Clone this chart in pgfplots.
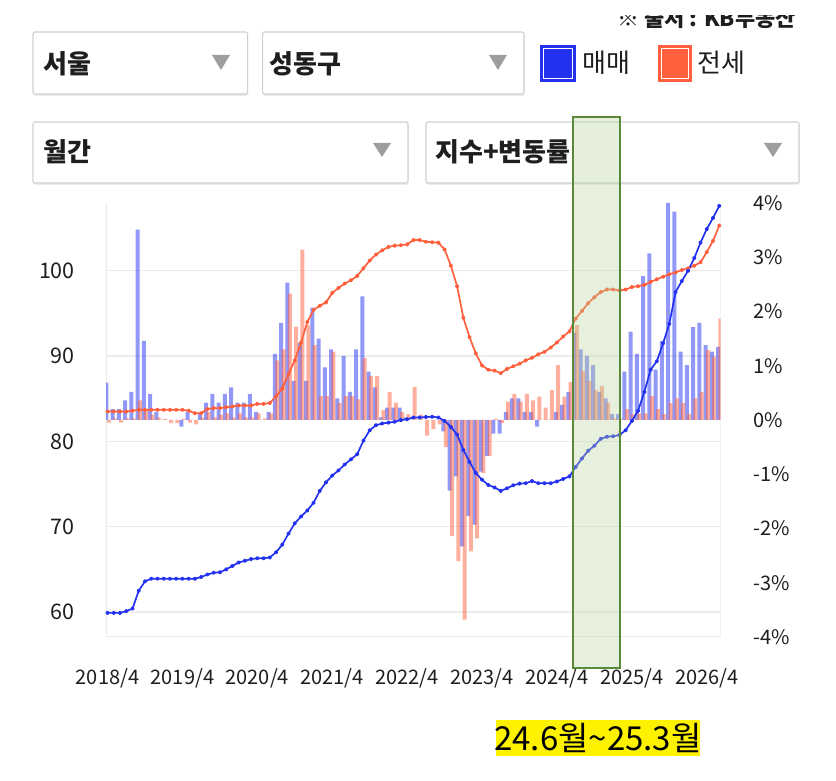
\documentclass[border=0pt]{standalone}
\usepackage{fontspec}
\setmainfont{Noto Sans CJK KR}
\usepackage{pgfplots}
\usepackage{pgfplotstable}
\pgfplotsset{compat=1.18}
\definecolor{blueM}{RGB}{35,50,240}
\definecolor{redJ}{RGB}{255,95,60}
\definecolor{gridc}{RGB}{236,236,236}
\definecolor{boxc}{RGB}{206,208,212}
\definecolor{tric}{RGB}{158,158,158}
\definecolor{gfill}{RGB}{184,212,155}
\definecolor{gdraw}{RGB}{88,138,58}
\definecolor{txt}{RGB}{30,30,30}
\newcommand{\fs}[1]{\fontsize{#1pt}{#1pt}\selectfont}

\pgfplotstableread{
i bm jm bp jp
0 59.9 83.5 0.69 -0.05
1 59.9 83.5 0.20 0.03
2 59.9 83.5 0.20 -0.05
3 60.1 83.5 0.36 0.03
4 60.4 83.6 0.52 0.03
5 62.5 83.7 3.51 0.36
6 63.6 83.7 1.46 0.20
7 63.9 83.7 0.48 0.10
8 63.9 83.7 0.15 0.05
9 63.9 83.7 0.00 0.02
10 63.9 83.7 0.00 -0.06
11 63.9 83.7 0.00 -0.06
12 63.9 83.7 -0.12 0.02
13 63.9 83.6 0.15 -0.05
14 63.9 83.3 0.00 -0.08
15 64.1 83.3 0.12 0.05
16 64.4 83.8 0.32 0.15
17 64.6 83.9 0.48 0.05
18 64.65 83.9 0.32 0.10
19 65.0 84.0 0.48 0.12
20 65.4 84.1 0.60 0.05
21 65.8 84.2 0.32 0.12
22 66.0 84.2 0.32 0.05
23 66.2 84.2 0.48 0.05
24 66.3 84.4 0.15 0.12
25 66.3 84.4 0.00 0.03
26 66.4 84.5 0.15 0.12
27 67.0 85.3 1.22 1.10
28 67.9 86.2 1.79 1.30
29 69.2 87.9 2.53 2.33
30 70.4 89.5 0.72 1.72
31 71.2 91.6 1.42 3.14
32 71.9 94.0 0.72 1.75
33 72.8 95.4 2.07 1.38
34 74.2 95.9 1.50 0.44
35 75.2 96.3 0.97 0.44
36 76.0 97.4 1.30 1.26
37 76.6 98.0 0.40 0.31
38 77.3 98.5 1.18 0.44
39 77.9 98.9 0.52 0.44
40 78.5 99.4 1.30 0.38
41 80.1 100.3 2.28 1.14
42 81.3 101.2 0.89 0.81
43 81.9 101.9 0.60 0.81
44 82.1 102.4 0.05 0.18
45 82.2 102.8 0.23 0.52
46 82.3 102.95 0.23 0.32
47 82.5 103.0 0.23 0.15
48 82.6 103.1 0.05 0.11
49 82.8 103.6 0.00 0.61
50 82.8 103.6 0.00 0.10
51 82.85 103.4 0.00 -0.29
52 82.9 103.35 0.00 -0.17
53 82.8 103.3 0.00 -0.08
54 82.4 102.5 -0.21 -0.50
55 81.7 100.6 -1.30 -2.14
56 80.8 98.2 -1.04 -2.60
57 79.0 94.5 -2.33 -3.68
58 77.6 92.2 -1.77 -2.42
59 76.3 90.3 -1.93 -2.18
60 75.5 88.9 -0.95 -0.98
61 74.9 88.4 -0.66 -0.66
62 74.6 88.3 -0.25 0.02
63 74.2 88.0 -0.25 -0.06
64 74.5 88.5 0.15 0.34
65 74.85 88.8 0.40 0.48
66 75.05 89.1 0.40 0.34
67 75.1 89.5 0.15 0.48
68 75.35 89.8 0.15 0.36
69 75.1 90.2 -0.12 0.43
70 75.1 90.5 0.00 0.23
71 75.1 91.0 0.00 0.55
72 75.3 91.6 0.15 1.01
73 75.6 92.3 0.28 0.43
74 75.9 92.9 0.52 0.70
75 77.0 94.4 1.61 1.75
76 78.0 95.3 1.30 0.90
77 78.9 96.2 1.18 0.72
78 79.5 96.9 1.01 0.55
79 80.3 97.5 0.52 0.63
80 80.55 97.8 0.40 0.32
81 80.6 97.8 0.11 0.03
82 80.75 97.7 0.11 0.03
83 81.3 97.8 0.89 0.20
84 82.4 98.1 1.63 0.11
85 83.6 98.2 1.22 0.12
86 85.8 98.35 2.65 0.12
87 88.4 98.7 3.07 0.44
88 89.4 99.0 0.93 0.20
89 91.5 99.3 1.46 0.11
90 93.8 99.6 4.00 0.31
91 97.5 99.8 3.84 0.40
92 98.8 100.1 1.26 0.31
93 100.0 100.3 1.01 0.11
94 101.5 100.6 1.71 0.40
95 103.3 101.0 1.79 0.52
96 104.9 102.2 1.38 1.29
97 106.2 103.5 1.26 1.17
98 107.6 105.3 1.35 1.87
}\data

\pgfplotsset{
  common/.style={
    at={(106pt,144pt)}, anchor=south west,
    scale only axis, width=614.5pt, height=434pt,
    xmin=-0.25, xmax=98.2,
    axis line style={draw=none}, tick style={draw=none},
    /pgf/number format/assume math mode=true,
  }
}

\begin{document}
\begin{tikzpicture}[x=1pt,y=1pt]
\path[use as bounding box] (0,0) rectangle (836,781);

% source line (cut at top)
\node[anchor=base east, inner sep=0pt, font=\fs{22}\bfseries, text=txt] at (796,754) {※ 출처 : KB부동산};
\fill[white] (590,766) rectangle (836,782);

% dropdown boxes
\foreach \a/\b/\c/\d in {33/749/247.6/687, 262.6/749/524/687, 33/659/408/598, 426/659/799/598}{
  \fill[black!7, rounded corners=2pt] (\a,\b-1.5) rectangle (\c+0.5,\d-1.8);
  \draw[boxc, line width=1.1pt, fill=white, rounded corners=2pt] (\a,\b) rectangle (\c,\d);
}
\fill[tric] (212,726) -- (230,726) -- (221,711) -- cycle;
\fill[tric] (489,726) -- (507,726) -- (498,711) -- cycle;
\fill[tric] (373,638) -- (391,638) -- (382,624) -- cycle;
\fill[tric] (764,638) -- (782,638) -- (773,624) -- cycle;
\node[anchor=west, inner sep=0pt, font=\fs{26}\bfseries, text=txt] at (43,717) {서울};
\node[anchor=west, inner sep=0pt, font=\fs{26}\bfseries, text=txt] at (269,717) {성동구};
\node[anchor=west, inner sep=0pt, font=\fs{26}\bfseries, text=txt] at (43,629) {월간};
\node[anchor=west, inner sep=0pt, font=\fs{26}\bfseries, text=txt] at (435,629) {지수+변동률};

% legend
\fill[blueM] (540,736) rectangle (576,699);
\draw[white, line width=1.3pt] (543.5,732.5) rectangle (572.5,702.5);
\node[anchor=west, inner sep=0pt, font=\fs{26}, text=txt] at (582,718) {매매};
\fill[redJ] (658,736) rectangle (692,699);
\draw[white, line width=1.3pt] (661.5,732.5) rectangle (688.5,702.5);
\node[anchor=west, inner sep=0pt, font=\fs{26}, text=txt] at (697,718) {전세};

% axis 1: grid, left labels, x labels
\begin{axis}[common,
  ymin=57.07, ymax=107.95,
  ytick={60,70,80,90,100},
  ymajorgrids, grid style={gridc, line width=1.3pt},
  xtick={0,12,24,36,48,60,72,84,96},
  xticklabels={2018/4,2019/4,2020/4,2021/4,2022/4,2023/4,2024/4,2025/4,2026/4},
  yticklabel style={anchor=east, inner sep=0pt, xshift=-31pt, font=\fs{21.5}, text=txt},
  xticklabel style={anchor=north, inner sep=0pt, yshift=-31pt, font=\fs{20}, text=txt},
]
\draw[gridc, line width=1.3pt] (rel axis cs:0,0) -- (rel axis cs:0,1);
\draw[gridc, line width=1.3pt] (rel axis cs:1,0) -- (rel axis cs:1,1);
\draw[gridc, line width=1.3pt] (rel axis cs:0,0) -- (rel axis cs:1,0);
\end{axis}

% axis 2: bars, right labels
\begin{axis}[common,
  ymin=-4, ymax=4,
  xtick=\empty,
  ytick={-4,-3,-2,-1,0,1,2,3,4},
  yticklabels={-4\%,-3\%,-2\%,-1\%,0\%,1\%,2\%,3\%,4\%},
  yticklabel pos=right,
  yticklabel style={anchor=west, inner sep=0pt, xshift=32.5pt, font=\fs{20}, text=txt},
]
\addplot[ybar, bar width=4pt, bar shift=-1.2pt, fill=blueM, fill opacity=0.5, draw=none] table[x=i, y=bp] {\data};
\addplot[ybar, bar width=4pt, bar shift=1.2pt, fill=redJ, fill opacity=0.5, draw=none] table[x=i, y=jp] {\data};
\end{axis}

% axis 3: index lines
\begin{axis}[common,
  ymin=57.07, ymax=107.95,
  xtick=\empty, ytick=\empty,
]
\addplot[redJ, line width=1.7pt, line join=round, mark=*, mark size=1.3pt] table[x=i, y=jm] {\data};
\addplot[blueM, line width=1.7pt, line join=round, mark=*, mark size=1.3pt] table[x=i, y=bm] {\data};
\end{axis}

% highlight box
\fill[gfill, fill opacity=0.35] (573,664) rectangle (620,113);
\draw[gdraw, line width=1.4pt] (573,664) rectangle (620,113);

% bottom label
\fill[yellow] (496,61) rectangle (700,25);
\node[inner sep=0pt, font=\fs{33}, text=black] at (598,43) {24.6월\textasciitilde25.3월};
\end{tikzpicture}
\end{document}
